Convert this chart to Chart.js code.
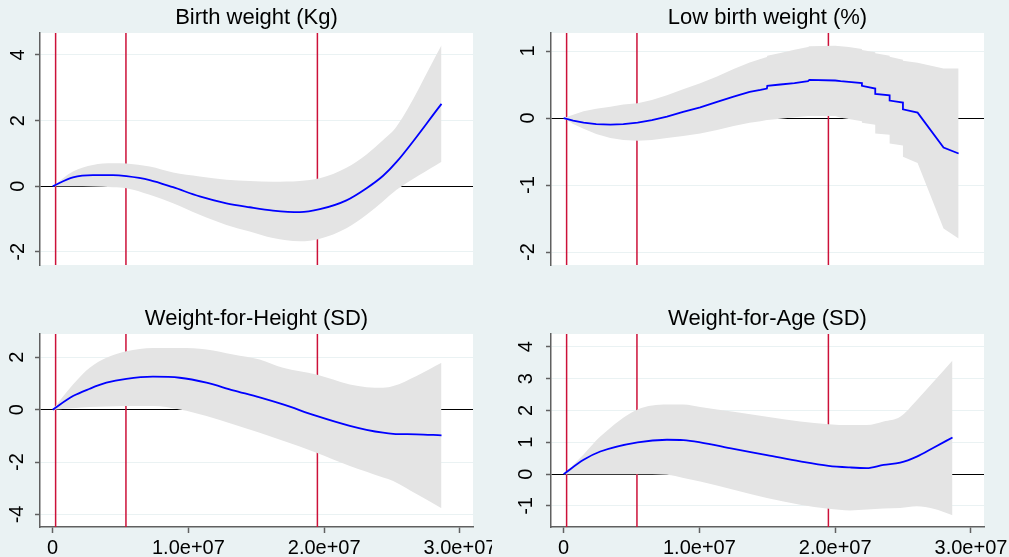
<!DOCTYPE html>
<html><head><meta charset="utf-8">
<script src="https://cdn.jsdelivr.net/npm/chart.js@4.4.1/dist/chart.umd.min.js"></script>
<style>
html,body{margin:0;padding:0;background:#eaf2f3;width:1009px;height:557px;overflow:hidden;position:relative}
canvas{position:absolute;display:block}
</style></head><body>
<canvas id="c1" width="492" height="280" style="left:0;top:0"></canvas>
<canvas id="c2" width="509" height="280" style="left:500px;top:0"></canvas>
<canvas id="c3" width="492" height="277" style="left:0;top:280px"></canvas>
<canvas id="c4" width="509" height="277" style="left:500px;top:280px"></canvas>
<script>
// ---- shared axis data ----
const xTickValues = [0, 1e7, 2e7, 3e7];
const xTickLabels = ['0', '1.0e+07', '2.0e+07', '3.0e+07'];
const vLines = [2.2e5, 5.4e6, 1.95e7];

// ---- Birth weight (Kg) ----
const bwTitle = 'Birth weight (Kg)';
const bwX = [0, 1.5e6, 2.97e6, 4.44e6, 5.43e6, 7.15e6, 8.87e6, 1.083e7, 1.28e7, 1.452e7, 1.623e7, 1.82e7, 1.968e7, 2.164e7, 2.312e7, 2.434e7, 2.533e7, 2.864e7];
const bwFit = [0, 0.27, 0.34, 0.34, 0.31, 0.19, -0.03, -0.31, -0.52, -0.64, -0.74, -0.79, -0.70, -0.43, -0.06, 0.32, 0.74, 2.51];
const bwUpper = [0, 0.45, 0.65, 0.70, 0.69, 0.60, 0.42, 0.30, 0.20, 0.16, 0.14, 0.16, 0.24, 0.56, 0.97, 1.41, 1.82, 4.30];
const bwLower = [0, 0, -0.01, -0.03, -0.06, -0.26, -0.52, -0.87, -1.18, -1.38, -1.58, -1.68, -1.60, -1.28, -0.87, -0.46, -0.11, 0.75];
const bwYTicks = [-2, 0, 2, 4];

// ---- Low birth weight (%) ----
const lbwTitle = 'Low birth weight (%)';
const lbwX = [0, 7.0e5, 1.47e6, 2.4e6, 3.44e6, 4.4e6, 5.45e6, 6.5e6, 7.61e6, 8.8e6, 1.006e7, 1.13e7, 1.252e7, 1.37e7, 1.45e7, 1.497e7, 1.50e7, 1.596e7, 1.70e7, 1.80e7, 1.81e7, 2.0e7, 2.04e7, 2.10e7, 2.197e7, 2.197e7, 2.295e7, 2.295e7, 2.401e7, 2.401e7, 2.499e7, 2.499e7, 2.607e7, 2.798e7, 2.909e7];
const lbwFit = [0, -0.04, -0.07, -0.09, -0.10, -0.09, -0.07, -0.03, 0.02, 0.09, 0.16, 0.24, 0.32, 0.39, 0.42, 0.44, 0.48, 0.50, 0.52, 0.55, 0.57, 0.56, 0.55, 0.54, 0.52, 0.48, 0.44, 0.36, 0.34, 0.26, 0.23, 0.13, 0.08, -0.44, -0.53];
const lbwUpper = [0, 0.05, 0.10, 0.14, 0.17, 0.20, 0.22, 0.27, 0.34, 0.43, 0.52, 0.62, 0.73, 0.83, 0.88, 0.91, 0.93, 0.97, 1.02, 1.06, 1.07, 1.08, 1.07, 1.06, 1.03, 1.015, 0.98, 0.965, 0.93, 0.915, 0.87, 0.855, 0.826, 0.74, 0.74];
const lbwLower = [0, -0.09, -0.16, -0.24, -0.30, -0.33, -0.34, -0.33, -0.30, -0.27, -0.23, -0.18, -0.12, -0.07, -0.05, -0.03, -0.03, -0.01, 0.01, 0.03, 0.03, 0.03, 0.005, -0.015, -0.05, -0.07, -0.10, -0.23, -0.25, -0.38, -0.41, -0.58, -0.67, -1.65, -1.80];
const lbwYTicks = [-2, -1, 0, 1];

// ---- Weight-for-Height (SD) ----
const whTitle = 'Weight-for-Height (SD)';
const whX = [0, 1.5e6, 2.73e6, 3.96e6, 5.43e6, 7.39e6, 9.36e6, 1.133e7, 1.329e7, 1.525e7, 1.697e7, 1.943e7, 2.189e7, 2.312e7, 2.434e7, 2.508e7, 2.680e7, 2.864e7];
const whFit = [0, 0.52, 0.80, 1.03, 1.18, 1.26, 1.22, 1.03, 0.74, 0.47, 0.20, -0.24, -0.62, -0.77, -0.88, -0.92, -0.94, -0.98];
const whUpper = [0, 0.96, 1.60, 1.98, 2.23, 2.36, 2.36, 2.30, 2.11, 1.92, 1.60, 1.34, 0.96, 0.86, 0.84, 0.90, 1.29, 1.79];
const whLower = [0, 0.05, 0.10, 0.12, 0.14, 0.14, 0.01, -0.24, -0.56, -0.88, -1.19, -1.64, -2.15, -2.37, -2.59, -2.72, -3.22, -3.76];
const whYTicks = [-4, -2, 0, 2];

// ---- Weight-for-Age (SD) ----
const waTitle = 'Weight-for-Age (SD)';
const waX = [0, 1.47e6, 2.70e6, 5.45e6, 7.61e6, 8.83e6, 1.006e7, 1.252e7, 1.497e7, 1.742e7, 1.951e7, 2.110e7, 2.233e7, 2.356e7, 2.479e7, 2.601e7, 2.724e7, 2.864e7];
const waFit = [0, 0.45, 0.71, 1.0, 1.08, 1.07, 1.0, 0.79, 0.60, 0.40, 0.26, 0.21, 0.19, 0.29, 0.36, 0.55, 0.83, 1.15];
const waUpper = [0, 0.62, 1.18, 2.03, 2.19, 2.19, 2.11, 1.96, 1.80, 1.65, 1.57, 1.54, 1.54, 1.65, 1.80, 2.32, 2.90, 3.57];
const waLower = [0, 0, 0, 0, -0.02, -0.12, -0.23, -0.49, -0.75, -0.96, -1.09, -1.14, -1.11, -1.08, -1.06, -1.01, -1.09, -1.29];
const waYTicks = [-1, 0, 1, 2, 3, 4];

// ---- styling ----
const FONT = "'Liberation Sans', Arial, Helvetica, sans-serif";
const GRID = '#eaf2f3';
const AXIS = '#606060';
const RED = '#cc1139';
const BLUE = '#0000ff';
const BAND = '#e4e4e4';
const XMIN = -9.3e5, XMAX = 3.096e7;

const plotBg = {
  id: 'plotBg',
  beforeDraw(chart) {
    const {ctx, chartArea: a} = chart;
    ctx.save();
    ctx.fillStyle = '#ffffff';
    ctx.fillRect(a.left, a.top, a.right - a.left, a.bottom - a.top);
    ctx.restore();
  }
};

function pts(xs, ys) { return xs.map((x, i) => ({x: x, y: ys[i]})); }

function panel(id, o) {
  const mode = o.smooth ? 'monotone' : 'default';
  const t = o.smooth ? 0.4 : 0;
  const datasets = [
    {data: pts(o.x, o.fit), borderColor: BLUE, borderWidth: 1.8, pointRadius: 0, fill: false, tension: t, cubicInterpolationMode: mode, order: 0},
    {data: pts(o.x, o.upper), borderColor: 'rgba(0,0,0,0)', borderWidth: 0, backgroundColor: BAND, pointRadius: 0, fill: '+1', tension: t, cubicInterpolationMode: mode, order: 1},
    {data: pts(o.x, o.lower), borderColor: 'rgba(0,0,0,0)', borderWidth: 0, pointRadius: 0, fill: false, tension: t, cubicInterpolationMode: mode, order: 1}
  ];
  vLines.forEach(v => datasets.push({
    data: [{x: v, y: o.yMin}, {x: v, y: o.yMax}],
    borderColor: RED, borderWidth: 1.5, pointRadius: 0, fill: false, order: 2
  }));
  new Chart(document.getElementById(id), {
    type: 'line',
    data: {datasets: datasets},
    options: {
      responsive: false,
      animation: false,
      events: [],
      layout: {padding: {left: 0, right: o.padRight, top: 0, bottom: o.padBottom}},
      plugins: {
        legend: {display: false},
        tooltip: {enabled: false},
        title: {
          display: true, text: o.title, fullSize: false,
          color: '#000', font: {family: FONT, size: 22, weight: 'normal'},
          padding: {top: o.titleTop, bottom: o.titleBottom}
        }
      },
      scales: {
        x: {
          type: 'linear', min: XMIN, max: XMAX, display: o.showX,
          afterBuildTicks: s => { s.ticks = xTickValues.map(v => ({value: v})); },
          afterFit: s => { s.paddingLeft = 0; s.paddingRight = 0; if (o.showX) s.height = 30; },
          ticks: {
            autoSkip: false, maxRotation: 0, minRotation: 0, padding: 3,
            color: '#000', font: {family: FONT, size: 20},
            callback: v => xTickLabels[xTickValues.indexOf(v)]
          },
          grid: {drawOnChartArea: false, drawTicks: true, tickLength: 6, tickColor: AXIS, tickWidth: 1.5},
          border: {display: true, color: AXIS, width: 1.5}
        },
        y: {
          type: 'linear', min: o.yMin, max: o.yMax,
          afterBuildTicks: s => { s.ticks = o.yTicks.map(v => ({value: v})); },
          afterFit: s => { s.width = o.yW; s.paddingTop = 0; s.paddingBottom = 0; },
          ticks: {
            autoSkip: false, minRotation: 90, maxRotation: 90, crossAlign: 'center', padding: o.yPad,
            color: '#000', font: {family: FONT, size: 20},
            callback: v => String(v)
          },
          grid: {
            color: c => (c.tick && c.tick.value === 0) ? '#000000' : GRID,
            lineWidth: 1, drawTicks: true, tickLength: 5, tickColor: AXIS, tickWidth: 1.5
          },
          border: {display: true, color: AXIS, width: 1.5}
        }
      }
    },
    plugins: [plotBg]
  });
}

panel('c1', {title: bwTitle, x: bwX, fit: bwFit, upper: bwUpper, lower: bwLower, yTicks: bwYTicks, smooth: true,
  yMin: -2.40, yMax: 4.67, showX: false, yW: 40, yPad: 7.6, padRight: 19, padBottom: 15, titleTop: 5, titleBottom: 1.6});
panel('c2', {title: lbwTitle, x: lbwX, fit: lbwFit, upper: lbwUpper, lower: lbwLower, yTicks: lbwYTicks, smooth: false,
  yMin: -2.194, yMax: 1.269, showX: false, yW: 51, yPad: 9.1, padRight: 25, padBottom: 15, titleTop: 5, titleBottom: 1.6});
panel('c3', {title: whTitle, x: whX, fit: whFit, upper: whUpper, lower: whLower, yTicks: whYTicks, smooth: true,
  yMin: -4.48, yMax: 2.89, showX: true, yW: 40, yPad: 8.4, padRight: 19, padBottom: 0, titleTop: 25.8, titleBottom: 1.8});
panel('c4', {title: waTitle, x: waX, fit: waFit, upper: waUpper, lower: waLower, yTicks: waYTicks, smooth: true,
  yMin: -1.66, yMax: 4.40, showX: true, yW: 51, yPad: 10.6, padRight: 25, padBottom: 0, titleTop: 25.8, titleBottom: 1.8});
</script>
</body></html>
